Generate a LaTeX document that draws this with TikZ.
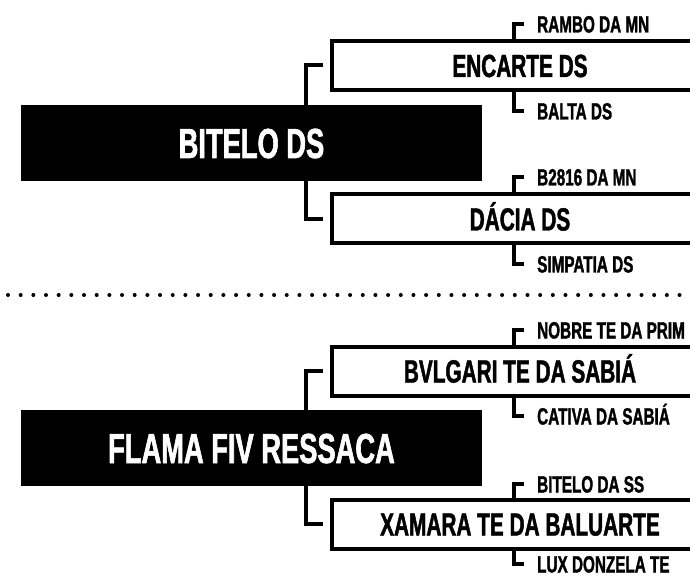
\documentclass[tikz,border=0pt]{standalone}
\usepackage{fontspec}
\newfontfamily\pedfont[FakeStretch=0.65, FakeBold=1.4]{Liberation Sans}
\usetikzlibrary{positioning}

\begin{document}
\begin{tikzpicture}[
x=1pt, y=-1pt,
mainnode/.style={rectangle, fill=black, text=white, inner sep=0pt, minimum width=461pt, minimum height=76pt, text height=30pt, text depth=0pt, font=\pedfont\bfseries\fontsize{42}{44}\selectfont},
parentnode/.style={rectangle, draw=black, line width=4pt, fill=white, inner sep=0pt, minimum width=376pt, minimum height=49pt, text height=23pt, text depth=0pt, font=\pedfont\bfseries\fontsize{32}{34}\selectfont},
grandnode/.style={anchor=west, inner sep=0pt, text height=17pt, text depth=0pt, font=\pedfont\bfseries\fontsize{23.5}{26}\selectfont},
link/.style={draw=black, line width=4pt},
]
\useasboundingbox (0,0) rectangle (690,577);
\clip (0,0) rectangle (690,577);

%Nodes
\node[mainnode]    (bitelo)   at (251.5,143) {BITELO DS};
\node[parentnode]  (encarte)  at (520,65.5)  {ENCARTE DS};
\node[parentnode]  (dacia)    at (520,219)   {DÁCIA DS};
\node[grandnode]   (rambo)    at (537,24)    {RAMBO DA MN};
\node[grandnode]   (balta)    at (537,111)   {BALTA DS};
\node[grandnode]   (bdois)    at (537,177)   {B2816 DA MN};
\node[grandnode]   (simpatia) at (537,264)   {SIMPATIA DS};

\node[mainnode]    (flama)    at (251.5,448) {FLAMA FIV RESSACA};
\node[parentnode]  (bvlgari)  at (520,371)   {BVLGARI TE DA SABIÁ};
\node[parentnode]  (xamara)   at (520,524)   {XAMARA TE DA BALUARTE};
\node[grandnode]   (nobre)    at (537,330)   {NOBRE TE DA PRIM};
\node[grandnode]   (cativa)   at (537,416)   {CATIVA DA SABIÁ};
\node[grandnode]   (bitelods) at (537,484)   {BITELO DA SS};
\node[grandnode]   (lux)      at (537,564)   {LUX DONZELA TE};

%Lines
\draw[link, shorten >=7pt] ([xshift=285pt]bitelo.north west) |- (encarte.west);
\draw[link, shorten >=7pt] ([xshift=285pt]bitelo.south west) |- (dacia.west);
\draw[link, shorten >=13pt] ([xshift=-6pt]encarte.north) |- (rambo.west);
\draw[link, shorten >=13pt] ([xshift=-6pt]encarte.south) |- (balta.west);
\draw[link, shorten >=13pt] ([xshift=-6pt]dacia.north) |- (bdois.west);
\draw[link, shorten >=13pt] ([xshift=-6pt]dacia.south) |- (simpatia.west);

\draw[link, shorten >=7pt] ([xshift=285pt]flama.north west) |- (bvlgari.west);
\draw[link, shorten >=7pt] ([xshift=285pt]flama.south west) |- (xamara.west);
\draw[link, shorten >=13pt] ([xshift=-6pt]bvlgari.north) |- (nobre.west);
\draw[link, shorten >=13pt] ([xshift=-6pt]bvlgari.south) |- (cativa.west);
\draw[link, shorten >=13pt] ([xshift=-6pt]xamara.north) |- (bitelods.west);
\draw[link, shorten >=13pt] ([xshift=-6pt]xamara.south) |- (lux.west);

%Separator
\draw[line width=4pt, line cap=round, dash pattern=on 0pt off 12.67pt] (8,295) -- (690,295);

\end{tikzpicture}
\end{document}
